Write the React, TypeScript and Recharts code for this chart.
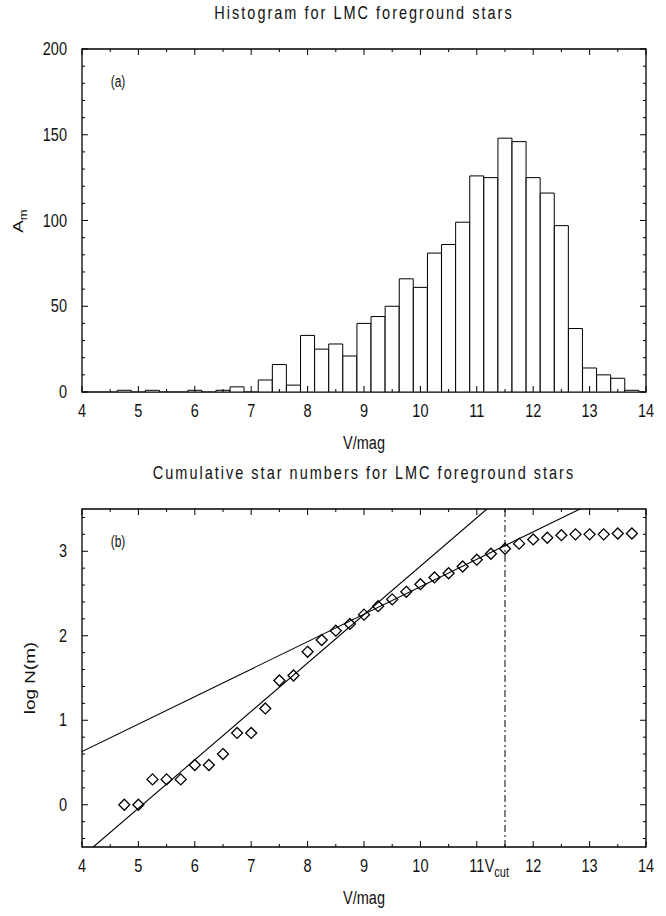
import React from 'react';
import { ComposedChart, Bar, Scatter, Line, XAxis, YAxis, ReferenceArea, ReferenceLine } from 'recharts';

// bin centres in V mag (bin width 0.25)
const mags = [4.75, 5.0, 5.25, 5.5, 5.75, 6.0, 6.25, 6.5, 6.75, 7.0, 7.25, 7.5, 7.75, 8.0, 8.25, 8.5, 8.75,
  9.0, 9.25, 9.5, 9.75, 10.0, 10.25, 10.5, 10.75, 11.0, 11.25, 11.5, 11.75, 12.0, 12.25, 12.5, 12.75,
  13.0, 13.25, 13.5, 13.75];
// (a) star counts per bin
const counts = [1, 0, 1, 0, 0, 1, 0, 1, 3, 0, 7, 16, 4, 33, 25, 28, 21,
  40, 44, 50, 66, 61, 81, 86, 99, 126, 125, 148, 146, 125, 116, 97, 37,
  14, 10, 8, 1];
// (b) log of cumulative numbers
const logN = [0, 0, 0.3, 0.3, 0.3, 0.47, 0.47, 0.6, 0.85, 0.85, 1.14, 1.47, 1.53, 1.81, 1.95, 2.06, 2.14,
  2.25, 2.35, 2.43, 2.52, 2.61, 2.69, 2.74, 2.82, 2.9, 2.97, 3.03, 3.09, 3.14, 3.16, 3.19, 3.2,
  3.2, 3.2, 3.21, 3.21];

// fitted lines, end points
const steepFit = [{ v: 4.2, n: -0.5 }, { v: 11.18, n: 3.5 }];
const shallowFit = [{ v: 4.0, n: 0.63 }, { v: 12.83, n: 3.5 }];
const vCut = 11.5;

const xTicks = [4, 4.5, 5, 5.5, 6, 6.5, 7, 7.5, 8, 8.5, 9, 9.5, 10, 10.5, 11, 11.5, 12, 12.5, 13, 13.5, 14];
const yTicksA = Array.from({ length: 21 }, (_, i) => i * 10);
const yTicksB = Array.from({ length: 20 }, (_, i) => Math.round((-0.4 + i * 0.2) * 10) / 10);

const histData = mags.map((v, i) => ({ v, count: counts[i] }));
const cumData = mags.map((v, i) => ({ v, logN: logN[i] }));

const FONT = '"Liberation Sans", Arial, Helvetica, sans-serif';
const SY = 1.3; // the scanned figure is stretched vertically
const PLOT_TOP = 49;
const PLOT_RIGHT = 646;
const X_GAP = 19;
const Y_GAP = 15;

const isInt = (v) => Math.abs(v - Math.round(v)) < 1e-6;

const SText = ({ x, y, anchor = 'middle', size = 14.5, children }) => (
  <text x={x} y={y} textAnchor={anchor} dominantBaseline="central" fontFamily={FONT} fontSize={size}
        fill="#111" transform={`translate(${x} ${y}) scale(1 ${SY}) translate(${-x} ${-y})`}>
    {children}
  </text>
);

const renderXTick = (props, withCut) => {
  const { x, y, payload } = props;
  const v = payload.value;
  const axisY = y - X_GAP;
  const major = isInt(v);
  const len = major ? 6 : 3;
  let label = null;
  if (major) label = <SText x={x} y={y}>{String(v)}</SText>;
  else if (withCut && Math.abs(v - vCut) < 1e-6) {
    label = (
      <SText x={x + 4} y={y} anchor="end">
        V<tspan fontSize={11} dy={4}>cut</tspan>
      </SText>
    );
  }
  return (
    <g>
      <line x1={x} y1={axisY} x2={x} y2={axisY - len} stroke="#000" strokeWidth={1} />
      <line x1={x} y1={PLOT_TOP} x2={x} y2={PLOT_TOP + len} stroke="#000" strokeWidth={1} />
      {label}
    </g>
  );
};

const makeYTick = (isMajor) => (props) => {
  const { x, y, payload } = props;
  const v = payload.value;
  const left = x + Y_GAP;
  const major = isMajor(v);
  const len = major ? 6 : 3;
  return (
    <g>
      <line x1={left} y1={y} x2={left + len} y2={y} stroke="#000" strokeWidth={1} />
      <line x1={PLOT_RIGHT} y1={y} x2={PLOT_RIGHT - len} y2={y} stroke="#000" strokeWidth={1} />
      {major ? <SText x={x} y={y} anchor="end">{String(v)}</SText> : null}
    </g>
  );
};

const Diamond = (p) => {
  const { cx, cy } = p;
  const r = 5.5;
  return (
    <path d={`M${cx},${cy - r}L${cx + r},${cy}L${cx},${cy + r}L${cx - r},${cy}Z`}
          fill="none" stroke="#000" strokeWidth={1.3} />
  );
};

const Label = ({ x, y, size = 14.5, ls = 0, rotate = false, children }) => (
  <div style={{
    position: 'absolute', left: x, top: y,
    transform: `translate(-50%,-50%) ${rotate ? `rotate(-90deg) scale(${SY},1)` : `scale(1,${SY})`}`,
    fontFamily: FONT, fontSize: size, letterSpacing: ls, whiteSpace: 'nowrap', lineHeight: 1, color: '#111',
  }}>
    {children}
  </div>
);

const HistogramChart = () => (
  <ComposedChart width={666} height={460} data={histData} barCategoryGap={0} barGap={0}
                 margin={{ top: 49, right: 20, bottom: 28, left: 22 }}>
    <XAxis type="number" dataKey="v" domain={[4, 14]} ticks={xTicks} interval={0} allowDataOverflow
           height={40} tickSize={0} tickMargin={X_GAP} axisLine={false} tick={(p) => renderXTick(p, false)} />
    <YAxis type="number" domain={[0, 200]} ticks={yTicksA} interval={0} allowDataOverflow
           width={60} tickSize={0} tickMargin={Y_GAP} axisLine={false} tick={makeYTick((v) => v % 50 === 0)} />
    <Bar dataKey="count" fill="#fff" stroke="#000" strokeWidth={1} isAnimationActive={false} />
    <ReferenceArea x1={4} x2={14} y1={0} y2={200} fill="none" stroke="#000" strokeWidth={1.3} />
  </ComposedChart>
);

const CumulativeChart = () => (
  <ComposedChart width={666} height={456} margin={{ top: 49, right: 20, bottom: 29, left: 22 }}>
    <XAxis type="number" dataKey="v" domain={[4, 14]} ticks={xTicks} interval={0} allowDataOverflow
           height={40} tickSize={0} tickMargin={X_GAP} axisLine={false} tick={(p) => renderXTick(p, true)} />
    <YAxis type="number" domain={[-0.5, 3.5]} ticks={yTicksB} interval={0} allowDataOverflow
           width={60} tickSize={0} tickMargin={Y_GAP} axisLine={false} tick={makeYTick(isInt)} />
    <ReferenceArea x1={4} x2={14} y1={-0.5} y2={3.5} fill="none" stroke="#000" strokeWidth={1.3} />
    <ReferenceLine x={vCut} stroke="#000" strokeWidth={1} strokeDasharray="7 3 2 3" />
    <Line data={steepFit} dataKey="n" type="linear" stroke="#000" strokeWidth={1.1} dot={false}
          isAnimationActive={false} />
    <Line data={shallowFit} dataKey="n" type="linear" stroke="#000" strokeWidth={1.1} dot={false}
          isAnimationActive={false} />
    <Scatter data={cumData} dataKey="logN" shape={<Diamond />} isAnimationActive={false} />
  </ComposedChart>
);

export default function App() {
  return (
    <div style={{ position: 'absolute', left: 0, top: 0, width: 666, height: 916, background: '#fff', overflow: 'hidden' }}>
      <div style={{ position: 'absolute', left: 0, top: 0 }}>
        <HistogramChart />
      </div>
      <div style={{ position: 'absolute', left: 0, top: 460 }}>
        <CumulativeChart />
      </div>
      <Label x={364} y={13} ls={2}>Histogram for LMC foreground stars</Label>
      <Label x={364} y={473} ls={2}>Cumulative star numbers for LMC foreground stars</Label>
      <Label x={364} y={443}>V/mag</Label>
      <Label x={364} y={898}>V/mag</Label>
      <Label x={118} y={82} size={12}>(a)</Label>
      <Label x={118} y={542} size={12}>(b)</Label>
      <Label x={20} y={221} rotate>A<sub style={{ fontSize: 10 }}>m</sub></Label>
      <Label x={30} y={678} rotate>log N(m)</Label>
    </div>
  );
}
